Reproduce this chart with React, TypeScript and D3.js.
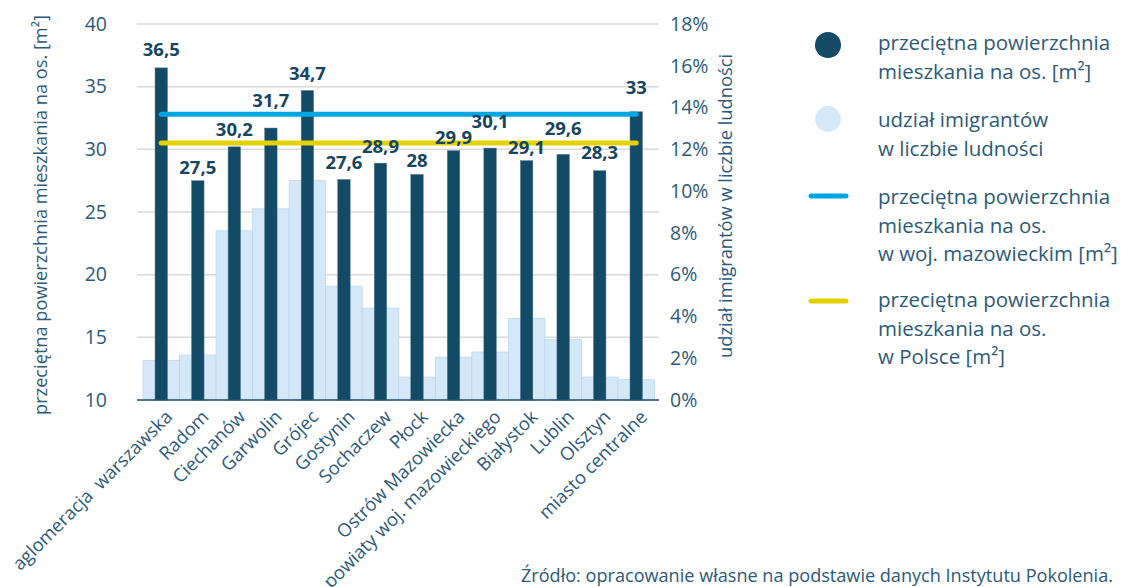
import React from "react";
import * as d3 from "d3";

const categories = [
  "aglomeracja  warszawska",
  "Radom",
  "Ciechanów",
  "Garwolin",
  "Grójec",
  "Gostynin",
  "Sochaczew",
  "Płock",
  "Ostrów Mazowiecka",
  "powiaty woj. mazowieckiego",
  "Białystok",
  "Lublin",
  "Olsztyn",
  "miasto centralne",
];
const areaPerPerson = [36.5, 27.5, 30.2, 31.7, 34.7, 27.6, 28.9, 28, 29.9, 30.1, 29.1, 29.6, 28.3, 33];
const immigrantShare = [1.9, 2.15, 8.1, 9.15, 10.5, 5.45, 4.4, 1.1, 2.05, 2.3, 3.9, 2.9, 1.1, 0.97];
const mazowieckieAvg = 32.8;
const polandAvg = 30.5;
const leftTicks = [10, 15, 20, 25, 30, 35, 40];
const rightTicks = [0, 2, 4, 6, 8, 10, 12, 14, 16, 18];
// extra vertical lift of value labels (px), as placed in the original to avoid the lines
const labelLift = [5, 0, 4, 14, 3, 3, 3, 0, 0, 13, 0, 12, 5, 11];

const legendItems = [
  { kind: "dot", color: "#134a66", lines: ["przeciętna powierzchnia", "mieszkania na os. [m²]"] },
  { kind: "dot", color: "#d5e8f8", lines: ["udział imigrantów", "w liczbie ludności"] },
  { kind: "line", color: "#00a6e2", lines: ["przeciętna powierzchnia", "mieszkania na os.", "w woj. mazowieckim [m²]"] },
  { kind: "line", color: "#e3d200", lines: ["przeciętna powierzchnia", "mieszkania na os.", "w Polsce [m²]"] },
];

const W = 1123;
const H = 587;
const FONT = "'Open Sans', 'Noto Sans', sans-serif";
const TEXT = "#2c5a79";
const DARK = "#134a66";
const LIGHT = "#d5e8f8";

export default function App() {
  const plotLeft = 137;
  const plotRight = 659;
  const top = 24;
  const bottom = 400;

  const x = d3.scaleBand<string>().domain(categories).range([143, 654.5]).padding(0);
  const yL = d3.scaleLinear().domain([10, 40]).range([bottom, top]);
  const yR = d3.scaleLinear().domain([0, 18]).range([bottom, top]);
  const bw = x.bandwidth();
  const darkW = 12.5;
  const cx = (c: string) => (x(c) as number) + bw / 2;

  const lineGen = d3.line<[number, number]>().x((d) => d[0]).y((d) => d[1]);
  const first = cx(categories[0]);
  const last = cx(categories[categories.length - 1]);

  const legendY = [45, 119, 196, 301];
  const legendTextY = [43, 120, 197, 300];

  return (
    <svg
      width={W}
      height={H}
      style={{ position: "absolute", left: 0, top: 0, background: "#fff" }}
      fontFamily={FONT}
    >
      {/* gridlines */}
      {leftTicks.filter((t) => t > 10).map((t) => (
        <line key={t} x1={plotLeft} x2={plotRight} y1={yL(t)} y2={yL(t)} stroke="#d9d9d9" strokeWidth={1.5} />
      ))}
      {/* light bars */}
      {categories.map((c, i) => (
        <rect
          key={"l" + c}
          x={x(c)}
          y={yR(immigrantShare[i])}
          width={bw}
          height={bottom - yR(immigrantShare[i])}
          fill={LIGHT}
          stroke="#bcd7ef"
          strokeWidth={0.8}
        />
      ))}
      {/* dark bars */}
      {categories.map((c, i) => (
        <rect
          key={"d" + c}
          x={cx(c) - darkW / 2}
          y={yL(areaPerPerson[i])}
          width={darkW}
          height={bottom - yL(areaPerPerson[i])}
          fill={DARK}
          stroke="#5d8199"
          strokeWidth={0.5}
        />
      ))}
      {/* axis line */}
      <line x1={plotLeft} x2={plotRight} y1={bottom} y2={bottom} stroke="#1d4e6c" strokeWidth={1.6} />
      {/* reference lines */}
      <path
        d={lineGen([[first, yL(mazowieckieAvg)], [last, yL(mazowieckieAvg)]]) as string}
        stroke="#00a6e2"
        strokeWidth={5}
        strokeLinecap="round"
        fill="none"
      />
      <path
        d={lineGen([[first, yL(polandAvg)], [last, yL(polandAvg)]]) as string}
        stroke="#e3d200"
        strokeWidth={5}
        strokeLinecap="round"
        fill="none"
      />
      {/* value labels */}
      {categories.map((c, i) => (
        <text
          key={"v" + c}
          x={cx(c)}
          y={yL(areaPerPerson[i]) - 7 - labelLift[i]}
          textAnchor="middle"
          fontSize={18.5}
          fontWeight={700}
          fill="#17455f"
        >
          {String(areaPerPerson[i]).replace(".", ",")}
        </text>
      ))}
      {/* left ticks */}
      {leftTicks.map((t) => (
        <text key={"lt" + t} x={107} y={yL(t)} dy="0.35em" textAnchor="end" fontSize={19.5} fill={TEXT}>
          {t}
        </text>
      ))}
      {/* right ticks */}
      {rightTicks.map((t) => (
        <text key={"rt" + t} x={670} y={yR(t)} dy="0.35em" textAnchor="start" fontSize={19.5} fill={TEXT}>
          {t + "%"}
        </text>
      ))}
      {/* axis titles */}
      <text
        transform={`translate(41,215) rotate(-90)`}
        textAnchor="middle"
        dy="0.35em"
        fontSize={18.2}
        fill={TEXT}
      >
        przeciętna powierzchnia mieszkania na os. [m²]
      </text>
      <text
        transform={`translate(726,206) rotate(-90)`}
        textAnchor="middle"
        dy="0.35em"
        fontSize={18.3}
        fill={TEXT}
      >
        udział imigrantów w liczbie ludności
      </text>
      {/* x labels */}
      {categories.map((c) => (
        <text
          key={"x" + c}
          transform={`translate(${cx(c) + 3},${bottom + 9}) rotate(-45)`}
          textAnchor="end"
          dy="0.7em"
          fontSize={18.4}
          fill={TEXT}
          style={{ whiteSpace: "pre" }}
        >
          {c}
        </text>
      ))}
      {/* legend */}
      {legendItems.map((it, i) => (
        <g key={"lg" + i}>
          {it.kind === "dot" ? (
            <circle cx={828} cy={legendY[i]} r={13} fill={it.color} />
          ) : (
            <line x1={811} x2={846} y1={legendY[i]} y2={legendY[i]} stroke={it.color} strokeWidth={5} strokeLinecap="round" />
          )}
          {it.lines.map((ln, j) => (
            <text key={j} x={878} y={legendTextY[i] + j * 28.5} dy="0.35em" fontSize={20.5} fill={TEXT}>
              {ln}
            </text>
          ))}
        </g>
      ))}
      {/* source */}
      <text x={1113} y={576} dy="0.35em" textAnchor="end" fontSize={18.1} fill={TEXT}>
        Źródło: opracowanie własne na podstawie danych Instytutu Pokolenia.
      </text>
    </svg>
  );
}
